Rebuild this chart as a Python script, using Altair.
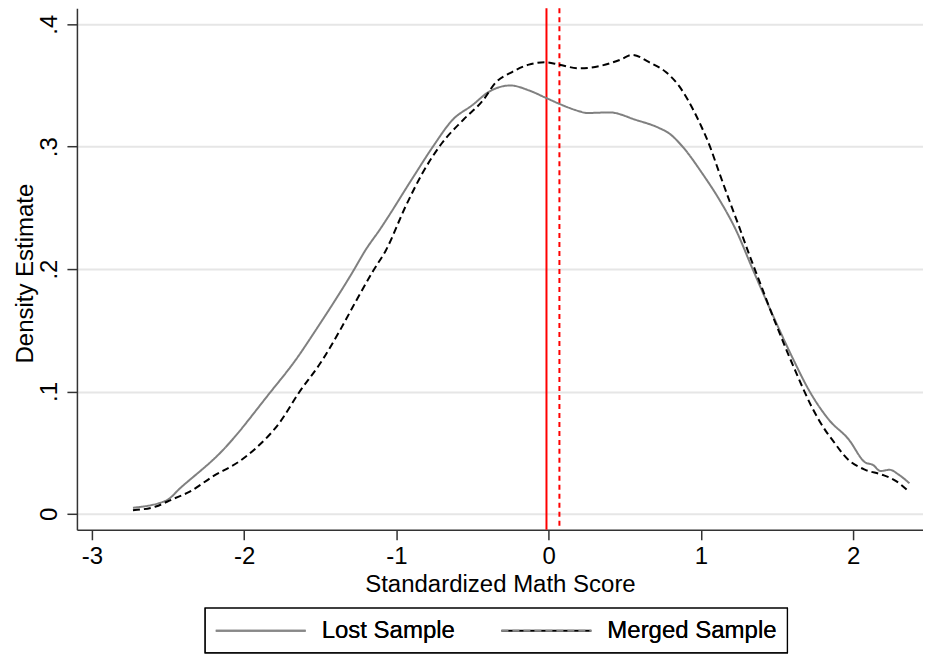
import altair as alt
import pandas as pd

# Lost Sample density (gray solid)
lost_x = [-2.73, -2.51, -2.42, -2.14, -1.83, -1.66, -1.53, -1.29, -1.20, -1.11, -0.89, -0.76,
          -0.63, -0.50, -0.39, -0.25, -0.13, -0.02, 0.07, 0.20, 0.25, 0.40, 0.57, 0.73, 0.79,
          0.88, 1.01, 1.12, 1.23, 1.34, 1.47, 1.60, 1.71, 1.84, 1.97, 2.08, 2.13, 2.18,
          2.24, 2.30, 2.37]
lost_y = [0.005, 0.011, 0.021, 0.052, 0.099, 0.126, 0.150, 0.197, 0.216, 0.232, 0.275, 0.300,
          0.322, 0.334, 0.345, 0.350, 0.346, 0.340, 0.335, 0.329, 0.3275, 0.328, 0.322, 0.315, 0.311,
          0.300, 0.278, 0.257, 0.232, 0.200, 0.163, 0.128, 0.101, 0.077, 0.061, 0.042, 0.040, 0.035,
          0.036, 0.032, 0.025]

# Merged Sample density (black dashed)
merged_x = [-2.73, -2.58, -2.47, -2.36, -2.20, -2.03, -1.92, -1.77, -1.64, -1.50, -1.37, -1.26,
            -1.15, -1.07, -0.94, -0.83, -0.70, -0.56, -0.43, -0.35, -0.24, -0.13, -0.02, 0.07,
            0.20, 0.34, 0.47, 0.55, 0.66, 0.77, 0.86, 0.92, 0.99, 1.06, 1.12, 1.19, 1.25, 1.32,
            1.36, 1.49, 1.62, 1.73, 1.83, 1.86, 1.97, 2.08, 2.19, 2.28, 2.36]
merged_y = [0.003, 0.006, 0.012, 0.018, 0.031, 0.043, 0.054, 0.074, 0.099, 0.123, 0.150, 0.175,
            0.199, 0.215, 0.251, 0.278, 0.303, 0.322, 0.338, 0.352, 0.361, 0.367, 0.369, 0.367,
            0.364, 0.366, 0.371, 0.375, 0.369, 0.361, 0.349, 0.337, 0.320, 0.300, 0.279, 0.255, 0.235, 0.211,
            0.198, 0.156, 0.117, 0.087, 0.066, 0.061, 0.044, 0.036, 0.032, 0.027, 0.019]

series_names = ["Lost Sample", "Merged Sample"]
series_colors = ["#808080", "#000000"]
series_dashes = [[1, 0], [7, 4]]

# Sample means (vertical red lines)
mean_names = ["Lost mean", "Merged mean"]
mean_values = [-0.014, 0.071]

x_ticks = [-3, -2, -1, 0, 1, 2]
y_ticks = [0, 0.1, 0.2, 0.3, 0.4]

df = pd.concat([
    pd.DataFrame({"x": lost_x, "y": lost_y, "series": series_names[0]}),
    pd.DataFrame({"x": merged_x, "y": merged_y, "series": series_names[1]}),
])
means = pd.DataFrame({"x": mean_values, "which": mean_names})

xscale = alt.Scale(domain=[-3.098, 2.459], nice=False, zero=False)
yscale = alt.Scale(domain=[-0.013, 0.413], nice=False, zero=False)

FONT = "Liberation Sans"

lines = alt.Chart(df).mark_line(strokeWidth=2, interpolate="monotone").encode(
    x=alt.X("x:Q", scale=xscale,
            axis=alt.Axis(values=x_ticks, title="Standardized Math Score", grid=False,
                          labelExpr="datum.value < 0 ? '-' + abs(datum.value) : '' + datum.value",
                          labelPadding=5, titlePadding=4)),
    y=alt.Y("y:Q", scale=yscale,
            axis=alt.Axis(values=y_ticks, title="Density Estimate", grid=True,
                          labelAngle=270, labelAlign="center", labelBaseline="bottom",
                          labelPadding=5, titleX=-44, titleY=265, titleBaseline="alphabetic",
                          labelExpr="datum.value == 0 ? '0' : '.' + round(datum.value * 10)")),
    color=alt.Color("series:N", title=None,
                    scale=alt.Scale(domain=series_names, range=series_colors)),
    strokeDash=alt.StrokeDash("series:N", title=None,
                              scale=alt.Scale(domain=series_names, range=series_dashes)),
)

rules = alt.Chart(means).mark_rule(color="#ff0000", strokeWidth=2).encode(
    x=alt.X("x:Q", scale=xscale),
    strokeDash=alt.StrokeDash("which:N", scale=alt.Scale(domain=mean_names, range=[[1, 0], [5, 4]]),
                              legend=None),
)

chart = alt.layer(rules, lines).resolve_scale(strokeDash="independent").properties(
    width=847, height=522,
    autosize=alt.AutoSizeParams(type="none"),
    padding={"left": 69, "top": 0, "right": 0, "bottom": 126},
).configure_view(stroke=None).configure_axis(
    labelFont=FONT, titleFont=FONT, labelFontSize=24, titleFontSize=24,
    titleFontWeight="normal", labelColor="black", titleColor="black",
    domainColor="#333333", domainWidth=1.5, tickColor="#333333", tickWidth=1.5, tickSize=10,
    gridColor="#e6e6e6", gridWidth=2,
).configure_legend(
    orient="none", legendX=128, legendY=600, direction="horizontal",
    strokeColor="black", strokeWidth=1.2, padding=10,
    symbolType="M-1,0H6.5", symbolSize=576, symbolStrokeWidth=2,
    labelFont=FONT, labelFontSize=24, labelColor="black", labelOffset=81,
    columnPadding=42, labelLimit=400,
)

chart.save("out.html", embed_options={"renderer": "svg", "actions": False})
